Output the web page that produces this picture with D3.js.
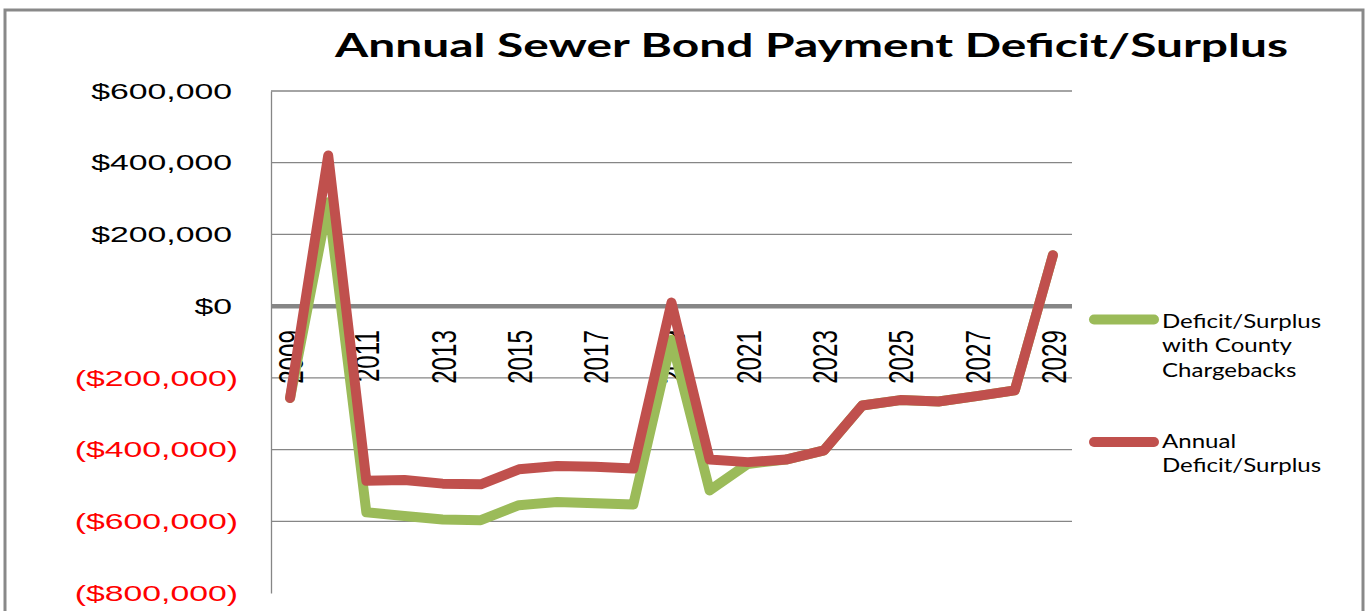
<!DOCTYPE html>
<html>
<head>
<meta charset="utf-8">
<script src="https://cdn.jsdelivr.net/npm/d3@7"></script>
<style>
  html, body { margin: 0; padding: 0; background: #fff; }
  svg { display: block; }
</style>
</head>
<body>
<svg id="chart" width="1369" height="611"></svg>
<script>
"use strict";

var years = [2009, 2010, 2011, 2012, 2013, 2014, 2015, 2016, 2017, 2018, 2019,
             2020, 2021, 2022, 2023, 2024, 2025, 2026, 2027, 2028, 2029];
var withChargebacks = [-256000, 290000, -575000, -585000, -595000, -597000, -555000,
                       -546000, -550000, -553000, -94000, -514000, -440000, -428000,
                       -402000, -277000, -262000, -266000, -251000, -235000, 142000];
var annualDeficit = [-256000, 420000, -487000, -485000, -495000, -497000, -455000,
                     -446000, -448000, -453000, 10000, -428000, -435000, -428000,
                     -402000, -277000, -262000, -266000, -251000, -235000, 142000];
var yTicks = [-800000, -600000, -400000, -200000, 0, 200000, 400000, 600000];
var xTickYears = [2009, 2011, 2013, 2015, 2017, 2019, 2021, 2023, 2025, 2027, 2029];
var seriesNames = [
  ["Deficit/Surplus", "with County", "Chargebacks"],
  ["Annual", "Deficit/Surplus"]
];
var chartTitle = "Annual Sewer Bond Payment Deficit/Surplus";

var GREEN = "#9BBB59";
var RED = "#C0504D";
var GRID = "#868686";
var LINE_WIDTH = 10;

var svg = d3.select("#chart");
var plot = { left: 271, right: 1072, top: 91, bottom: 593 };

// outer chart border
svg.append("rect")
  .attr("x", 5).attr("y", 10)
  .attr("width", 1358).attr("height", 640)
  .attr("fill", "none")
  .attr("stroke", "#898989")
  .attr("stroke-width", 3);

// stretch a text node to a target length keeping its own font
function stretch(sel, factor) {
  sel.each(function () {
    var len = this.getComputedTextLength();
    d3.select(this)
      .attr("textLength", len * factor)
      .attr("lengthAdjust", "spacingAndGlyphs");
  });
}

svg.append("text")
  .attr("x", 335).attr("y", 57)
  .attr("font-family", "Lato, 'Open Sans', sans-serif")
  .attr("font-weight", 700)
  .attr("font-size", 32)
  .attr("fill", "#000")
  .attr("textLength", 953)
  .attr("lengthAdjust", "spacingAndGlyphs")
  .text(chartTitle);

var x = d3.scalePoint().domain(years).range([plot.left, plot.right]).padding(0.5);
var y = d3.scaleLinear().domain([-800000, 600000]).range([plot.bottom, plot.top]);

// gridlines (no line at the bottom, zero is drawn as the axis)
svg.append("g")
  .selectAll("line")
  .data(yTicks.filter(function (d) { return d !== 0 && d !== -800000; }))
  .enter()
  .append("line")
  .attr("x1", plot.left).attr("x2", plot.right)
  .attr("y1", function (d) { return y(d); })
  .attr("y2", function (d) { return y(d); })
  .attr("stroke", GRID)
  .attr("stroke-width", 1.3);

// y axis
var yAxis = svg.append("g")
  .attr("transform", "translate(" + plot.left + ",0)")
  .call(d3.axisLeft(y).tickValues(yTicks).tickSize(0).tickPadding(0)
    .tickFormat(function (d) {
      var s = "$" + d3.format(",")(Math.abs(d));
      return d < 0 ? "(" + s + ")" : s;
    }));
yAxis.select(".domain").attr("stroke", GRID).attr("stroke-width", 1.3);
yAxis.selectAll("text")
  .attr("font-family", "'Liberation Sans', Arial, sans-serif")
  .attr("font-size", 22.5)
  .attr("fill", function (d) { return d < 0 ? "#FF0000" : "#000"; })
  .attr("x", function (d) { return d < 0 ? -33 : -39; })
  .call(stretch, 1.5);

// x axis on the zero line
var xAxis = svg.append("g")
  .attr("transform", "translate(0," + y(0) + ")")
  .call(d3.axisBottom(x).tickValues(xTickYears).tickSize(0).tickSizeOuter(0));
xAxis.select(".domain")
  .attr("d", "M" + plot.left + ",0H" + plot.right)
  .attr("stroke", GRID)
  .attr("stroke-width", 4.5);
xAxis.selectAll("text")
  .attr("font-family", "'Liberation Sans', Arial, sans-serif")
  .attr("font-size", 35)
  .attr("fill", "#000")
  .attr("text-anchor", "end")
  .attr("x", 0).attr("y", 0)
  .attr("dy", "0.36em")
  .attr("transform", "translate(0,24) rotate(-90)")
  .call(stretch, 0.69);

var lineGen = d3.line()
  .x(function (d, i) { return x(years[i]); })
  .y(function (d) { return y(d); });

var series = [
  { values: withChargebacks, color: GREEN },
  { values: annualDeficit, color: RED }
];

svg.append("g")
  .selectAll("path")
  .data(series)
  .enter()
  .append("path")
  .attr("d", function (d) { return lineGen(d.values); })
  .attr("fill", "none")
  .attr("stroke", function (d) { return d.color; })
  .attr("stroke-width", LINE_WIDTH)
  .attr("stroke-linejoin", "round")
  .attr("stroke-linecap", "round");

// legend
var legend = svg.append("g");
var legendItems = [
  { color: GREEN, lines: seriesNames[0], swatchY: 319.5, firstBase: 328 },
  { color: RED, lines: seriesNames[1], swatchY: 442, firstBase: 448 }
];
legendItems.forEach(function (item) {
  legend.append("line")
    .attr("x1", 1094).attr("x2", 1154)
    .attr("y1", item.swatchY).attr("y2", item.swatchY)
    .attr("stroke", item.color)
    .attr("stroke-width", LINE_WIDTH)
    .attr("stroke-linecap", "round");
  legend.selectAll(null)
    .data(item.lines)
    .enter()
    .append("text")
    .attr("x", 1162)
    .attr("y", function (d, i) { return item.firstBase + i * 24.3; })
    .attr("font-family", "Lato, 'Open Sans', sans-serif")
    .attr("font-size", 18.5)
    .attr("fill", "#000")
    .text(function (d) { return d; })
    .call(stretch, 1.3);
});
</script>
</body>
</html>
